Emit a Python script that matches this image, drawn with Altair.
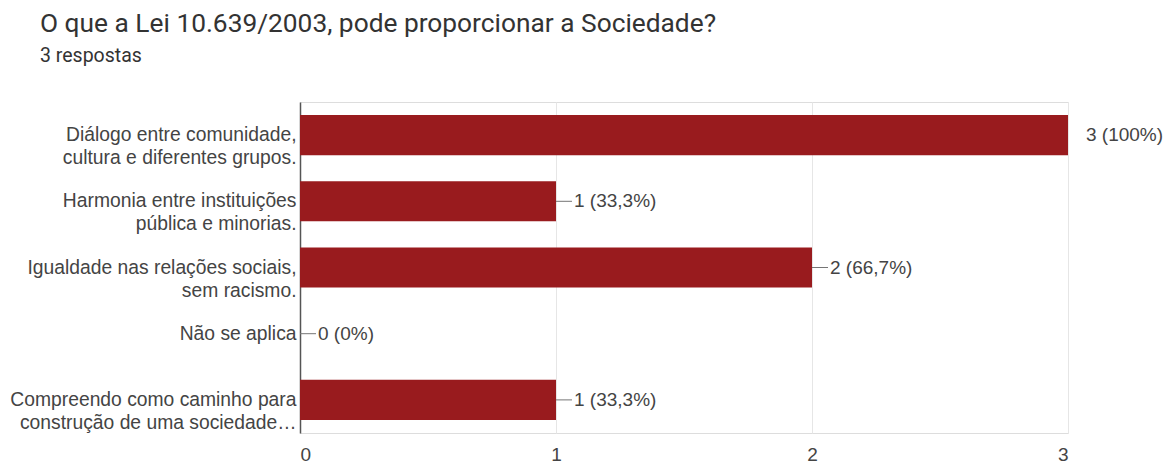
import altair as alt
import pandas as pd

categories = [
    "Diálogo entre comunidade,\ncultura e diferentes grupos.",
    "Harmonia entre instituições\npública e minorias.",
    "Igualdade nas relações sociais,\nsem racismo.",
    "Não se aplica",
    "Compreendo como caminho para\nconstrução de uma sociedade…",
]
counts = [3, 1, 2, 0, 1]
percents = ["100%", "33,3%", "66,7%", "0%", "33,3%"]
x_ticks = [0, 0.5, 1, 1.5, 2, 2.5, 3]

df = pd.DataFrame({
    "cat": categories,
    "count": counts,
    "label": [f"{c} ({p})" for c, p in zip(counts, percents)],
})

BAR = "#991b1e"
TXT = "#444444"
LABEL_FONT = "Liberation Sans"

y_enc = alt.Y(
    "cat:N",
    sort=categories,
    scale=alt.Scale(paddingInner=0.395, paddingOuter=0.1975),
    axis=alt.Axis(
        title=None,
        labelExpr="split(datum.label, '\\n')",
        labelFont=LABEL_FONT,
        labelFontSize=19.3,
        labelColor=TXT,
        labelLineHeight=23,
        labelPadding=4,
        labelLimit=400,
        ticks=False,
        domainColor="#555555",
        domainWidth=1.5,
        grid=False,
    ),
)

x_scale = alt.Scale(domain=[0, 3], nice=False)

bars = alt.Chart(df).mark_bar(color=BAR).encode(
    x=alt.X(
        "count:Q",
        scale=x_scale,
        axis=alt.Axis(
            title=None,
            values=x_ticks,
            format="d",
            labelExpr="datum.value % 1 == 0 ? datum.label : ''",
            labelFont=LABEL_FONT,
            labelFontSize=19,
            labelColor=TXT,
            labelPadding=12,
            ticks=False,
            domain=False,
            grid=True,
            gridColor="#e6e6e6",
            gridWidth=1,
        ),
    ),
    y=y_enc,
)

leaders = alt.Chart(df).transform_filter(alt.datum.count < 3).mark_rule(
    color="#757575", strokeWidth=1, x2Offset=16
).encode(
    x=alt.X("count:Q", scale=x_scale),
    x2="count:Q",
    y=alt.Y("cat:N", sort=categories),
)

texts = alt.Chart(df).mark_text(
    align="left", baseline="middle", dx=18, font=LABEL_FONT, fontSize=19, color=TXT
).encode(
    x=alt.X("count:Q", scale=x_scale),
    y=alt.Y("cat:N", sort=categories),
    text="label:N",
)

chart = (
    alt.layer(bars, leaders, texts)
    .properties(
        width=768,
        height=331,
        autosize=alt.AutoSizeParams(type="none"),
        padding={"left": 300, "top": 102, "right": 105, "bottom": 31},
        title=alt.TitleParams(
            text="O que a Lei 10.639/2003, pode proporcionar a Sociedade?",
            subtitle="3 respostas",
            anchor="start",
            frame="group",
            dx=-260,
            font="Roboto",
            fontSize=26.3,
            fontWeight="normal",
            color="#333333",
            subtitleFont="Roboto",
            subtitleFontSize=19.5,
            subtitleColor="#333333",
            subtitlePadding=10,
            offset=36,
        ),
    )
    .configure_view(stroke="#e6e6e6", strokeWidth=1)
    .configure(background="white")
)

chart.save("out.html", embed_options={"renderer": "svg", "actions": False})
